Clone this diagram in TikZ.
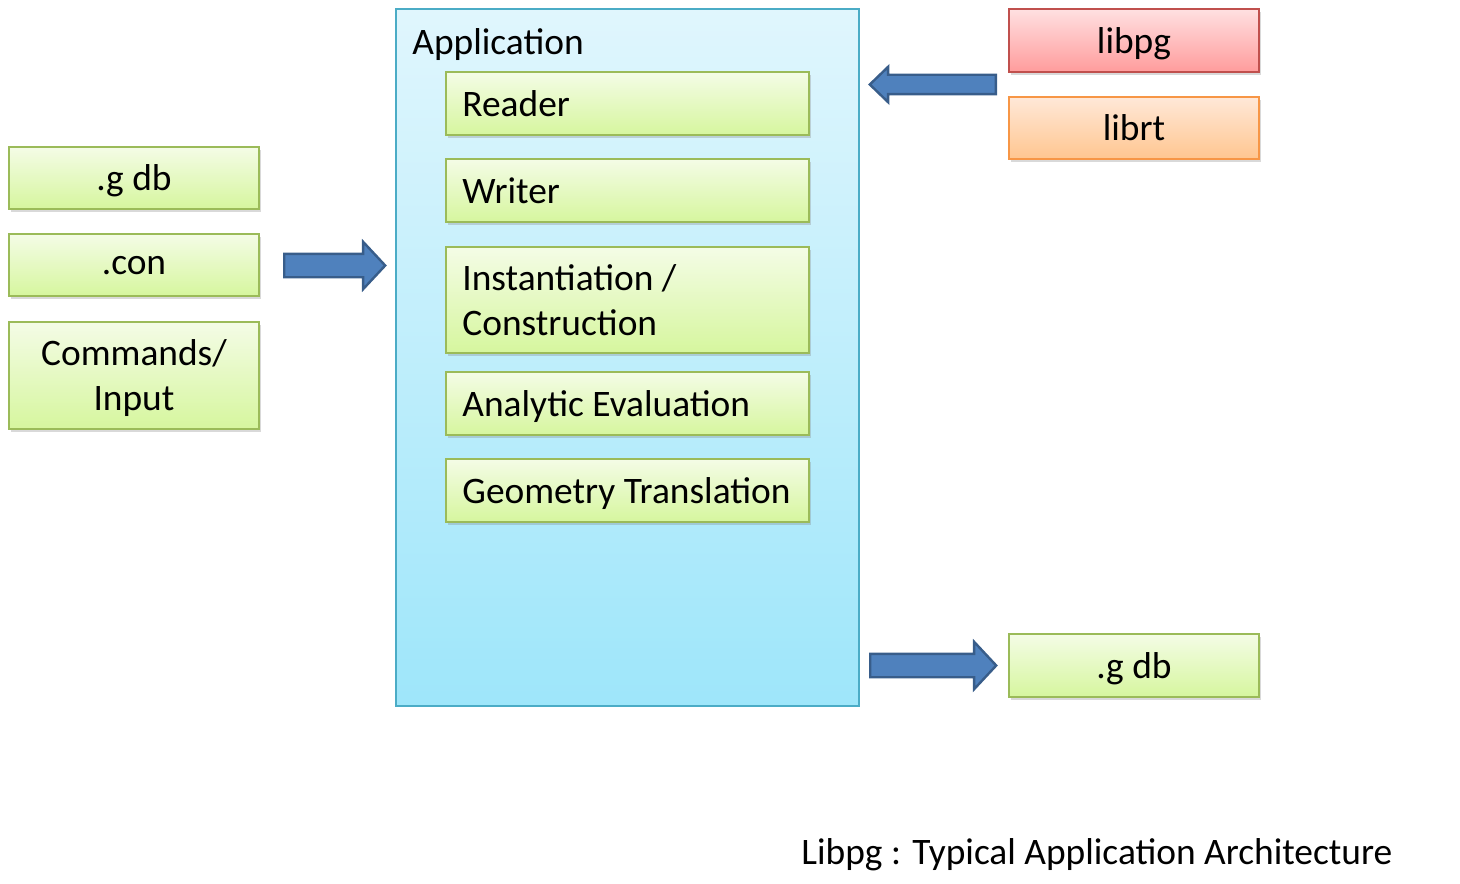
\documentclass[tikz,border=0pt]{standalone}
\usepackage{fontspec}
\setmainfont{Carlito}
\usetikzlibrary{shapes.arrows,shadows,fit,positioning}

\definecolor{grline}{RGB}{155,187,89}
\definecolor{grtop}{RGB}{244,252,230}
\definecolor{grbot}{RGB}{214,246,158}
\definecolor{apline}{RGB}{75,172,198}
\definecolor{aptop}{RGB}{224,246,253}
\definecolor{apbot}{RGB}{158,230,250}
\definecolor{pgline}{RGB}{192,80,77}
\definecolor{pgtop}{RGB}{255,224,225}
\definecolor{pgbot}{RGB}{255,156,156}
\definecolor{rtline}{RGB}{247,150,70}
\definecolor{rttop}{RGB}{255,232,216}
\definecolor{rtbot}{RGB}{255,198,144}
\definecolor{arline}{RGB}{56,93,138}
\definecolor{arfill}{RGB}{79,129,189}

\tikzset{
  box/.style={draw, line width=1pt, inner sep=0pt, drop shadow={shadow xshift=1pt,shadow yshift=-1.5pt,opacity=.3}},
  greenbox/.style={box, draw=grline, top color=grtop, bottom color=grbot},
  appbox/.style={draw=apline, line width=1pt, inner sep=0pt, top color=aptop, bottom color=apbot},
  pgbox/.style={box, draw=pgline, top color=pgtop, bottom color=pgbot},
  rtbox/.style={box, draw=rtline, top color=rttop, bottom color=rtbot},
  boxtext/.style={inner sep=0pt, align=center, text depth=0pt},
  blockarrow/.style={single arrow, draw=arline, fill=arfill, line width=1.2pt, inner xsep=0pt, anchor=tail, minimum height=#1}
}

\begin{document}
\begin{tikzpicture}[x=0.5pt,y=-0.5pt,font=\fontsize{18.7}{22.5}\selectfont]
\useasboundingbox (0,0) rectangle (1460,883);

% application and its parts
\node[appbox, fit={(396,9) (859,706)}] (app) {};
\node[anchor=base west, inner sep=0pt] (apptitle) at (412,55) {Application};

\foreach \n/\t/\b/\s in {reader/72/135/Reader, writer/159/222/Writer, inst/247/353/{Instantiation /\\Construction}, eval/372/435/Analytic Evaluation, geom/459/522/Geometry Translation} {
\node[greenbox, fit={(446,\t) (809,\b)}] (\n) {};
\node[boxtext, anchor=west, align=left] (\n-txt) at ([xshift=8.5pt]\n.west) {\s};
}

% inputs
\foreach \n/\t/\b/\s in {ingdb/147/209/.g db, incon/234/296/.con, incmd/322/429/{Commands/\\Input}} {
\node[greenbox, fit={(9,\t) (259,\b)}] (\n) {};
\node[boxtext] (\n-txt) at (\n) {\s};
}

% libraries and output
\node[pgbox, fit={(1009,9) (1259,72)}] (libpg) {};
\node[boxtext] (libpg-txt) at (libpg) {libpg};
\node[rtbox, fit={(1009,97) (1259,159)}] (librt) {};
\node[boxtext] (librt-txt) at (librt) {librt};
\node[greenbox, fit={(1009,634) (1259,697)}] (outgdb) {};
\node[boxtext] (outgdb-txt) at (outgdb) {.g db};

\coordinate (intail) at (283,265.5);
\coordinate (libtail) at (997,84.5);
\coordinate (outtail) at (869,665.5);
\node[blockarrow=50.5pt, inner ysep=5.25pt, single arrow head extend=6pt, single arrow tip angle=94] (inarrow) at (intail) {};
\node[blockarrow=63pt, inner ysep=4.25pt, single arrow head extend=4pt, single arrow tip angle=88, shape border rotate=180] (libarrow) at (libtail) {};
\node[blockarrow=63pt, inner ysep=5.25pt, single arrow head extend=6pt, single arrow tip angle=94] (outarrow) at (outtail) {};

\node[anchor=base west, inner sep=0pt] (caption) at (801,864) {Libpg : Typical Application Architecture};
\end{tikzpicture}
\end{document}
